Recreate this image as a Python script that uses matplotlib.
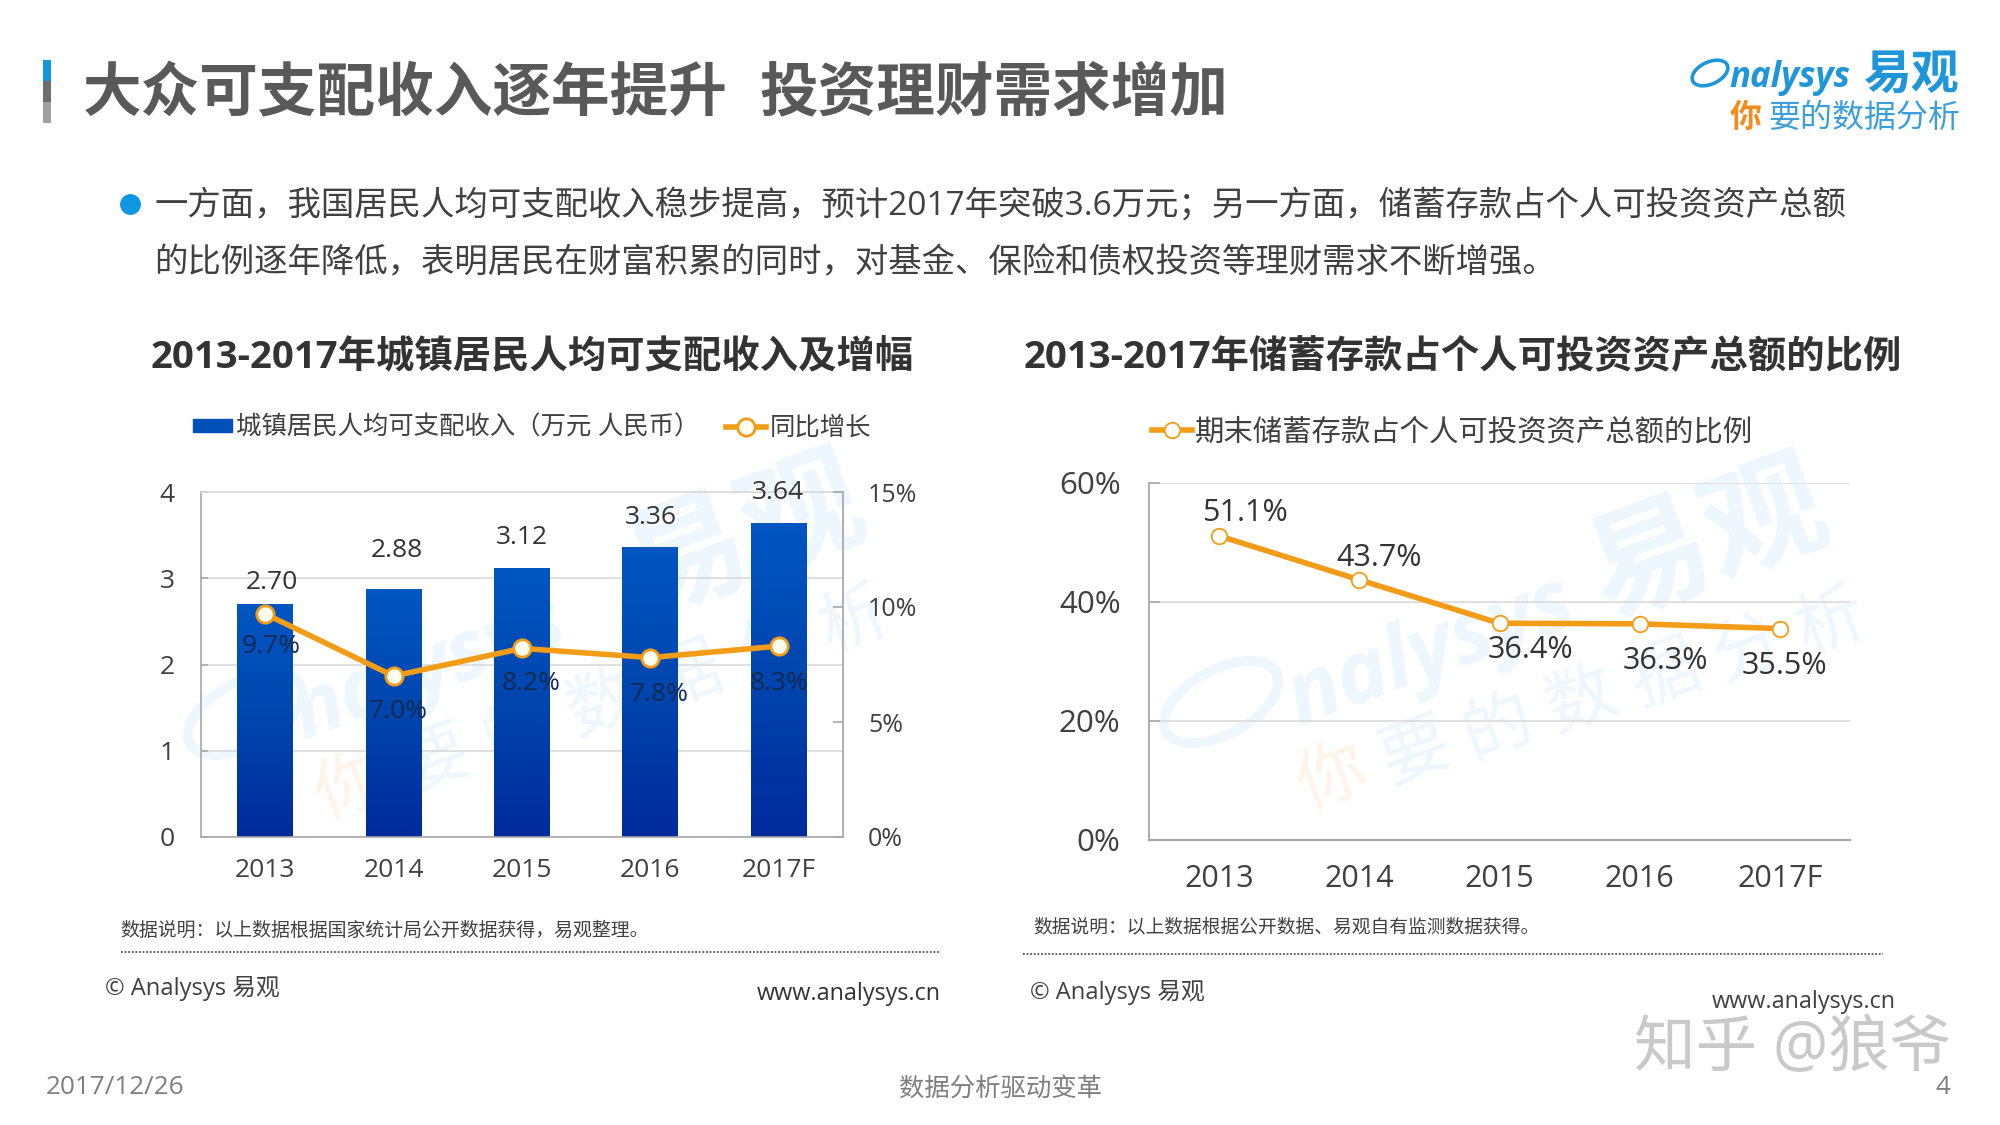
import numpy as np
import matplotlib
matplotlib.use("Agg")
import matplotlib.pyplot as plt
from matplotlib.colors import LinearSegmentedColormap
from matplotlib.lines import Line2D
from matplotlib.patches import Ellipse, Rectangle

FONT = ['Open Sans', 'Noto Sans CJK SC', 'DejaVu Sans']
plt.rcParams['font.family'] = FONT

# ---------- data ----------
years = ['2013', '2014', '2015', '2016', '2017F']
income = [2.70, 2.88, 3.12, 3.36, 3.64]
growth = [9.7, 7.0, 8.2, 7.8, 8.3]
savings = [51.1, 43.7, 36.4, 36.3, 35.5]

income_labels = ['2.70', '2.88', '3.12', '3.36', '3.64']
growth_labels = ['9.7%', '7.0%', '8.2%', '7.8%', '8.3%']
savings_labels = ['51.1%', '43.7%', '36.4%', '36.3%', '35.5%']

left_ticks = [0, 1, 2, 3, 4]
growth_ticks = [0, 5, 10, 15]
growth_ticklabels = ['0%', '5%', '10%', '15%']
savings_ticks = [0, 20, 40, 60]
savings_ticklabels = ['0%', '20%', '40%', '60%']

title_a = '大众可支配收入逐年提升'
title_b = '投资理财需求增加'
body_1 = '一方面，我国居民人均可支配收入稳步提高，预计2017年突破3.6万元；另一方面，储蓄存款占个人可投资资产总额'
body_2 = '的比例逐年降低，表明居民在财富积累的同时，对基金、保险和债权投资等理财需求不断增强。'
sub_left = '2013-2017年城镇居民人均可支配收入及增幅'
sub_right = '2013-2017年储蓄存款占个人可投资资产总额的比例'
legend_income = '城镇居民人均可支配收入（万元 人民币）'
legend_growth = '同比增长'
legend_savings = '期末储蓄存款占个人可投资资产总额的比例'
note_left = '数据说明：以上数据根据国家统计局公开数据获得，易观整理。'
note_right = '数据说明：以上数据根据公开数据、易观自有监测数据获得。'
slogan = '你要的数据分析'

# ---------- styles ----------
ORANGE = '#F39C17'
GRID = '#DADADA'
AXIS = '#A8A8A8'
TXT = '#404040'
W, H = 2000, 1125
PT = 72 / 100  # points per pixel

fig = plt.figure(figsize=(20, 11.25), dpi=100, facecolor='white')


def T(x, y, s, size, color=TXT, weight='normal', ha='left', va='center', rot=0, z=5, **kw):
    return fig.text(x / W, 1 - y / H, s, fontsize=size, color=color, fontweight=weight,
                    ha=ha, va=va, rotation=rot, rotation_mode='anchor', zorder=z,
                    family=FONT, **kw)


def ring(x, y, w, h, ang, color, lw, z=-5):
    fig.add_artist(Ellipse((x / 100, (H - y) / 100), w / 100, h / 100, angle=ang, fill=False,
                           edgecolor=color, linewidth=lw, transform=fig.dpi_scale_trans, zorder=z))


def axes_px(x0, y0, x1, y1):
    a = fig.add_axes([x0 / W, 1 - y1 / H, (x1 - x0) / W, (y1 - y0) / H])
    a.patch.set_alpha(0)
    return a


# ---------- watermarks ----------
WB, WO = '#EDF7FD', '#FDF4EA'
ANG = 20
for sw, ny, yi, start, step, fs in [((245, 714), (430, 670), (746, 542), (351, 791), (84, -28), 0.95),
                                    ((1221, 702), (1431, 653), (1709, 546), (1333, 781), (83, -26), 1.0)]:
    ring(sw[0], sw[1], 125, 65, 28, WB, 7)
    T(ny[0], ny[1], 'nalysys', 62 * fs, WB, 'bold', ha='center', rot=ANG, z=-5, style='italic')
    T(yi[0], yi[1], '易观', 88, WB, 'bold', ha='center', rot=ANG, z=-5)
    for i, ch in enumerate(slogan):
        T(start[0] + i * step[0], start[1] + i * step[1], ch, 50, WO if i == 0 else WB,
          ha='center', rot=ANG, z=-5)

# ---------- header ----------
for y0, y1, c in [(60, 81, '#1296DB'), (81, 102, '#6D6D6D'), (102, 123, '#A0A0A0')]:
    fig.add_artist(Rectangle((43 / W, 1 - y1 / H), 8 / W, (y1 - y0) / H, color=c, lw=0,
                             transform=fig.transFigure))
T(83, 95, title_a, 42.2, '#595959', 'bold')
T(759, 95, title_b, 42.2, '#595959', 'bold')

# logo
ring(1710, 73, 38, 22, 25, '#1E96D8', 2.6, z=5)
T(1729, 78, 'nalysys', 25, '#1E96D8', 'bold', style='italic')
T(1864, 76, '易观', 34.5, '#1E96D8', 'bold')
T(1730, 118, '你', 23, '#F18D1E', 'bold')
T(1768, 119, '要的数据分析', 23, '#3A9FDA')

# body text
fig.add_artist(Line2D([130 / W], [1 - 204 / H], marker='o', ms=14, color='#0E96E0', lw=0,
                      transform=fig.transFigure))
T(154, 206, body_1, 24.05, TXT)
T(154, 264, body_2, 24.05, TXT)

T(151, 357, sub_left, 27.6, '#333333', 'bold')
T(1024, 357, sub_right, 27.6, '#333333', 'bold')

# ---------- left chart ----------
ax = axes_px(201, 492, 843, 837)
x = np.arange(len(years))
bars = ax.bar(x, income, width=0.436, color='#0050B8', zorder=2)
cmap = LinearSegmentedColormap.from_list('b', ['#0056C2', '#0045AE', '#002A9C'])
grad = np.linspace(0, 1, 256).reshape(-1, 1)
for b in bars:
    im = ax.imshow(grad, extent=[b.get_x(), b.get_x() + b.get_width(), 0, b.get_height()],
                   cmap=cmap, aspect='auto', zorder=2.1, origin='upper')
    im.set_clip_path(b)
ax.set_xlim(-0.5, 4.5)
ax.set_ylim(0, 4)
ax.set_xticks(x, years)
ax.set_yticks(left_ticks)
ax.grid(axis='y', color=GRID, lw=1.2, zorder=0)
ax.set_axisbelow(True)
ax.tick_params(axis='x', length=0, pad=15, labelsize=19, labelcolor=TXT)
ax.tick_params(axis='y', direction='in', length=5, width=1.2, color=AXIS, pad=19, labelsize=19,
               labelcolor=TXT)
for s in ax.spines.values():
    s.set_color(GRID)
    s.set_linewidth(1.2)
ax.spines['bottom'].set_color(AXIS)
ax.spines['left'].set_color(AXIS)

offs_income = [(7, 22), (3, 38), (0, 30), (0, 30), (-1, 31)]
for xi, v, lab, o in zip(x, income, income_labels, offs_income):
    ax.annotate(lab, (xi, v), xytext=(o[0] * PT, o[1] * PT), textcoords='offset points',
                ha='center', va='center', fontsize=19, color='#333333', zorder=6)

ax2 = ax.twinx()
ax2.patch.set_alpha(0)
ax2.set_ylim(0, 15)
ax2.set_yticks(growth_ticks, growth_ticklabels)
ax2.tick_params(axis='y', direction='in', length=7, width=1.2, color=AXIS, pad=18,
                labelsize=18, labelcolor=TXT)
for s in ax2.spines.values():
    s.set_visible(False)
ax2.spines['right'].set_visible(True)
ax2.spines['right'].set_color(AXIS)
ax2.spines['right'].set_linewidth(1.2)
ln, = ax2.plot(x, growth, color=ORANGE, lw=4, marker='o', ms=12.5, mfc='#FFFDF0',
               mec=ORANGE, mew=2, zorder=5)
offs_growth = [(6, -33), (5, -36), (9, -35), (9, -37), (0, -37)]
for xi, v, lab, o in zip(x, growth, growth_labels, offs_growth):
    ax2.annotate(lab, (xi, v), xytext=(o[0] * PT, o[1] * PT), textcoords='offset points',
                 ha='center', va='center', fontsize=19, color='#14294F', zorder=6)

handle_bar = Rectangle((0, 0), 1, 1, color='#0050B8')
ax.legend([handle_bar, ln], [legend_income, legend_growth], ncol=2, frameon=False,
          loc='center left', bbox_to_anchor=(193 / W, 1 - 428 / H),
          bbox_transform=fig.transFigure, fontsize=18.3, handlelength=1.55, handleheight=0.45,
          handletextpad=0.15, columnspacing=1.05, borderpad=0, borderaxespad=0,
          labelcolor=TXT)

# ---------- right chart ----------
ax3 = axes_px(1149, 483, 1850, 839.5)
ax3.set_xlim(-0.5, 4.5)
ax3.set_ylim(0, 60)
ax3.set_xticks(x, years)
ax3.set_yticks(savings_ticks, savings_ticklabels)
ax3.grid(axis='y', color=GRID, lw=1.2, zorder=0)
ax3.set_axisbelow(True)
ax3.tick_params(axis='x', length=0, pad=17.5, labelsize=22, labelcolor=TXT)
ax3.tick_params(axis='y', direction='in', length=8, width=1.2, color=AXIS, pad=20.5, labelsize=22.5,
                labelcolor=TXT)
for k in ['top', 'right']:
    ax3.spines[k].set_visible(False)
ax3.spines['left'].set_color(AXIS)
ax3.spines['left'].set_linewidth(1.3)
ax3.spines['bottom'].set_color(AXIS)
ax3.spines['bottom'].set_linewidth(1.6)
ln3, = ax3.plot(x, savings, color=ORANGE, lw=4, marker='o', ms=11.2, mfc='white',
                mec=ORANGE, mew=1.3, zorder=5)
offs_sav = [(26, 23), (20, 22), (31, -27), (26, -37), (5, -37)]
for xi, v, lab, o in zip(x, savings, savings_labels, offs_sav):
    ax3.annotate(lab, (xi, v), xytext=(o[0] * PT, o[1] * PT), textcoords='offset points',
                 ha='center', va='center', fontsize=22, color='#333333', zorder=6)
ax3.legend([ln3], [legend_savings], frameon=False, loc='center left',
           bbox_to_anchor=(1152 / W, 1 - 433 / H), bbox_transform=fig.transFigure,
           fontsize=21.2, handlelength=1.35, handletextpad=0.1, borderpad=0, borderaxespad=0,
           labelcolor=TXT)

# ---------- notes and footer ----------
T(120.5, 930.5, note_left, 13.6, TXT)
T(1033, 927.5, note_right, 13.5, TXT)
for xa, xb, y in [(121, 941, 952), (1023, 1883, 954)]:
    fig.add_artist(Line2D([xa / W, xb / W], [1 - y / H] * 2, color='#555555', lw=1.3,
                          ls=(0, (1, 1)), transform=fig.transFigure))
T(105, 988.5, '© Analysys 易观', 17.1, '#404040')
T(941, 993.5, 'www.analysys.cn', 16.8, '#333333', ha='right')
T(1030, 992.5, '© Analysys 易观', 17.1, '#404040')
T(1896, 1002, 'www.analysys.cn', 16.8, '#404040', ha='right')
T(46, 1087, '2017/12/26', 18.8, '#7F7F7F')
T(1001, 1089, '数据分析驱动变革', 18.3, '#7F7F7F', ha='center')
T(1950, 1087, '4', 18.8, '#7F7F7F', ha='right')
T(1634, 1050, '知乎 @狼爷', 44.3, '#C9C9C9')

fig.savefig('out.png', dpi=100, facecolor='white')
